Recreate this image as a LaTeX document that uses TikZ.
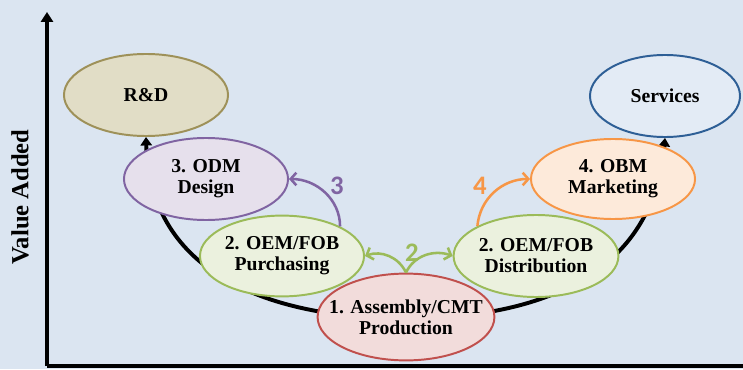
\documentclass[tikz,border=0pt]{standalone}
\usepackage{fontspec}
\setmainfont{Liberation Serif}
\newfontfamily\stepfont{Carlito}
\usepackage{tikz}
\usetikzlibrary{shapes.geometric,arrows.meta}

\definecolor{paneblue}{HTML}{DBE5F1}
\definecolor{rdfill}{HTML}{E1DDC6}
\definecolor{rdline}{HTML}{9E9159}
\definecolor{svfill}{HTML}{E3EBF5}
\definecolor{svline}{HTML}{2E5F96}
\definecolor{odmfill}{HTML}{E6E0EC}
\definecolor{odmline}{HTML}{8064A2}
\definecolor{obmfill}{HTML}{FDEADA}
\definecolor{obmline}{HTML}{F79646}
\definecolor{oemfill}{HTML}{EBF1DE}
\definecolor{oemline}{HTML}{9BBB59}
\definecolor{cmtfill}{HTML}{F2DCDB}
\definecolor{cmtline}{HTML}{C0504D}

\pgfdeclarelayer{back}
\pgfdeclarelayer{curve}
\pgfsetlayers{back,curve,main}

\begin{document}
\begin{tikzpicture}[x=0.025cm,y=0.025cm,
  stage/.style={ellipse,draw,line width=1.4pt,inner xsep=-14pt,inner ysep=0pt,align=center,
    font=\bfseries\fontsize{14}{15}\selectfont},
  upgrade/.style={line width=1.8pt,-{Straight Barb[length=4pt,width=9pt]}},
  stepnum/.style={font=\stepfont\bfseries\fontsize{19}{19}\selectfont},
  axis/.style={line width=2.5pt}]
\useasboundingbox (0,0) rectangle (743,369);
\begin{pgfonlayer}{back}
\fill[paneblue] (0,0) rectangle (743,369);
\end{pgfonlayer}

% axes
\coordinate (origin) at (47,3);
\coordinate (ytop) at (47,357);
\coordinate (xend) at (743,3);
\draw[axis,-{Triangle[length=7pt,width=8.5pt]}] (origin) -- (ytop);
\draw[axis] (origin) -- (xend);
\node[rotate=90,font=\bfseries\fontsize{17.5}{18}\selectfont] (vlabel) at (20,172) {Value Added};

% stages
\node[stage,fill=rdfill,draw=rdline,minimum width=4.1cm,minimum height=2.05cm] (rd) at (146,274) {R\&D};
\node[stage,fill=svfill,draw=svline,minimum width=3.75cm,minimum height=2.05cm] (sv) at (665,273) {Services};
\node[stage,fill=odmfill,draw=odmline,minimum width=4.1cm,minimum height=2.05cm] (odm) at (206,190) {3. ODM\\Design};
\node[stage,fill=obmfill,draw=obmline,minimum width=4.1cm,minimum height=2cm] (obm) at (613,190) {4. OBM\\Marketing};
\node[stage,fill=oemfill,draw=oemline,minimum width=4.1cm,minimum height=2.02cm] (purch) at (282,113) {2. OEM/FOB\\Purchasing};
\node[stage,fill=oemfill,draw=oemline,minimum width=4.12cm,minimum height=2.05cm] (distr) at (536,113) {2. OEM/FOB\\Distribution};
\node[stage,fill=cmtfill,draw=cmtline,minimum width=4.42cm,minimum height=2.17cm] (assy) at (406,52) {1. Assembly/CMT\\Production};

% smile curve
\coordinate (valley) at (406,50);
\begin{pgfonlayer}{curve}
\draw[line width=2.8pt,{Triangle[length=6pt,width=8pt]}-{Triangle[length=6pt,width=8pt]}]
  (rd.south) .. controls (149,120) and (230,52) .. (valley)
  .. controls (580,52) and (655,120) .. (sv.south);
\end{pgfonlayer}

% upgrading paths
\draw[upgrade,draw=oemline] (assy.north) to[out=115,in=20] (purch.east);
\draw[upgrade,draw=oemline] (assy.north) to[out=65,in=160] (distr.west);
\node[stepnum,text=oemline] (n2) at (412,116) {2};
\draw[upgrade,draw=odmline] (purch.27) to[out=90,in=0] (odm.east);
\node[stepnum,text=odmline] (n3) at (337,183) {3};
\draw[upgrade,draw=obmline] (distr.153) to[out=85,in=180] (obm.west);
\node[stepnum,text=obmline] (n4) at (480,183) {4};
\end{tikzpicture}
\end{document}
